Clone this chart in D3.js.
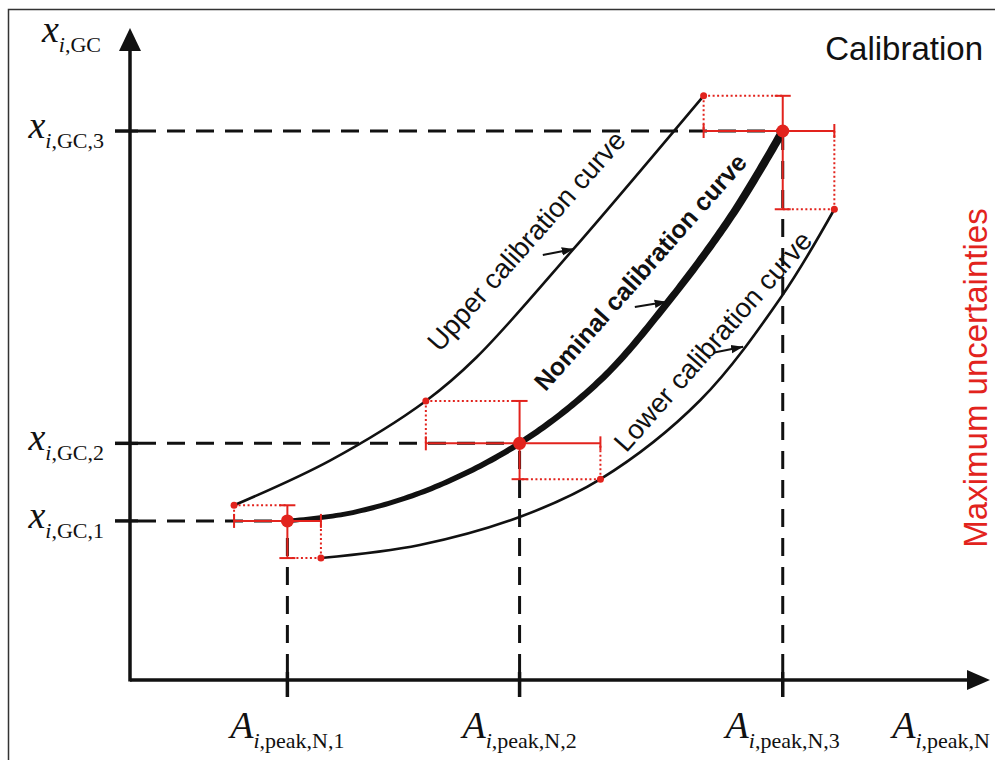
<!DOCTYPE html>
<html>
<head>
<meta charset="utf-8">
<script src="https://cdn.jsdelivr.net/npm/d3@7"></script>
<style>
  html, body { margin: 0; padding: 0; background: #fff; }
  svg { display: block; }
</style>
</head>
<body>
<script>
// Calibration points (peak area A, composition x) and their maximum uncertainties
const pointA = [18.3, 45.3, 75.9];
const pointX = [24.4, 36.3, 84.2];
const areaLow = [12.1, 34.4, 66.7];
const areaHigh = [22.2, 54.7, 81.9];
const compHigh = [26.8, 42.8, 89.6];
const compLow = [18.7, 30.8, 72.2];

// Calibration curves
const nominalA = [18.3, 25.6, 34.9, 45.3, 54.7, 62.4, 70.1, 75.9];
const nominalX = [24.4, 25.6, 29.3, 36.3, 46.0, 57.7, 71.5, 84.2];
const upperA = [12.1, 23.3, 34.4, 40.3, 51.5, 66.7];
const upperX = [26.8, 33.7, 42.8, 49.5, 66.0, 89.6];
const lowerA = [22.2, 33.7, 45.3, 54.7, 66.3, 75.8, 81.9];
const lowerX = [18.7, 20.7, 25.0, 30.8, 42.9, 58.9, 72.2];

// Tick labels (subscripts)
const xTickSubs = ["i,peak,N,1", "i,peak,N,2", "i,peak,N,3"];
const yTickSubs = ["i,GC,1", "i,GC,2", "i,GC,3"];

// Curve captions (centred) and their pointer arrows
const captionText = ["Upper calibration curve", "Nominal calibration curve", "Lower calibration curve"];
const captionA = [46.9, 60.1, 68.6];
const captionX = [66.4, 61.7, 51.0];
const arrowFromA = [48.0, 58.7, 67.8];
const arrowFromX = [65.2, 57.2, 50.2];
const arrowToA = [51.6, 62.4, 71.3];
const arrowToX = [66.1, 58.0, 51.1];

const W = 995, H = 760;
const RED = "#e2231d";
const INK = "#111";
const serif = "'Liberation Serif', 'Times New Roman', serif";
const sans = "'Liberation Sans', Arial, sans-serif";

const svg = d3.select("body").append("svg").attr("width", W).attr("height", H);

const x = d3.scaleLinear().domain([0, 100]).range([130, 990]);
const y = d3.scaleLinear().domain([0, 100]).range([680, 28]);

// frame
svg.append("rect").attr("x", 8.5).attr("y", 9.5).attr("width", 1100).attr("height", 1100)
  .attr("fill", "none").attr("stroke", "#333").attr("stroke-width", 1.5);

const defs = svg.append("defs");
defs.append("marker").attr("id", "head").attr("viewBox", "0 0 12 10")
  .attr("refX", 12).attr("refY", 5).attr("markerWidth", 12).attr("markerHeight", 10)
  .attr("markerUnits", "userSpaceOnUse").attr("orient", "auto")
  .append("path").attr("d", "M0,0.8 L12,5 L0,9.2 Z").attr("fill", INK);

const line = d3.line().x(d => x(d[0])).y(d => y(d[1])).curve(d3.curveCatmullRom.alpha(0.5));

// upper and lower calibration curves
svg.append("path").datum(d3.zip(upperA, upperX)).attr("d", line)
  .attr("fill", "none").attr("stroke", INK).attr("stroke-width", 2.6);
svg.append("path").datum(d3.zip(lowerA, lowerX)).attr("d", line)
  .attr("fill", "none").attr("stroke", INK).attr("stroke-width", 2.6);

// nominal curve: a ribbon that widens towards the top calibration point
(function () {
  const guide = svg.append("path").datum(d3.zip(nominalA, nominalX)).attr("d", line)
    .attr("fill", "none").attr("stroke", "none");
  const node = guide.node();
  const len = node.getTotalLength();
  const n = 160, left = [], right = [];
  for (let k = 0; k <= n; k++) {
    const s = len * k / n;
    const p = node.getPointAtLength(s);
    const q = node.getPointAtLength(Math.min(len, s + 0.5));
    const r = node.getPointAtLength(Math.max(0, s - 0.5));
    let dx = q.x - r.x, dy = q.y - r.y;
    const m = Math.hypot(dx, dy) || 1;
    dx /= m; dy /= m;
    const w = (4.5 + 3.8 * k / n) / 2;
    left.push([p.x - dy * w, p.y + dx * w]);
    right.push([p.x + dy * w, p.y - dx * w]);
  }
  const ring = left.concat(right.reverse());
  svg.append("path").attr("d", "M" + ring.map(d => d.join(",")).join("L") + "Z").attr("fill", INK);
  guide.remove();
})();

// dashed guides from the axes to each calibration point
const guides = svg.append("g").attr("stroke", INK).attr("stroke-width", 3).attr("stroke-dasharray", "18,11");
pointA.forEach((a, i) => {
  guides.append("line").attr("x1", x(0) + 8).attr("x2", x(a)).attr("y1", y(pointX[i])).attr("y2", y(pointX[i]));
  guides.append("line").attr("x1", x(a)).attr("x2", x(a)).attr("y1", y(0) - 8).attr("y2", y(pointX[i]));
});

// uncertainty bars
const err = svg.append("g").attr("stroke", RED).attr("fill", "none");
pointA.forEach((a, i) => {
  const cx = x(a), cy = y(pointX[i]);
  const xl = x(areaLow[i]), xh = x(areaHigh[i]);
  const yh = y(compHigh[i]), yl = y(compLow[i]);
  // dotted box edges to the upper/lower curve ends
  const dot = err.append("g").attr("stroke-width", 2).attr("stroke-dasharray", "2,2.5");
  dot.append("line").attr("x1", xl).attr("y1", yh).attr("x2", cx).attr("y2", yh);
  dot.append("line").attr("x1", xl).attr("y1", yh).attr("x2", xl).attr("y2", cy);
  dot.append("line").attr("x1", xh).attr("y1", yl).attr("x2", cx).attr("y2", yl);
  dot.append("line").attr("x1", xh).attr("y1", yl).attr("x2", xh).attr("y2", cy);
  // solid bars with caps
  const s = err.append("g").attr("stroke-width", 2);
  s.append("line").attr("x1", xl).attr("x2", xh).attr("y1", cy).attr("y2", cy);
  s.append("line").attr("x1", cx).attr("x2", cx).attr("y1", yh).attr("y2", yl);
  s.append("line").attr("x1", xl).attr("x2", xl).attr("y1", cy - 7).attr("y2", cy + 7);
  s.append("line").attr("x1", xh).attr("x2", xh).attr("y1", cy - 7).attr("y2", cy + 7);
  s.append("line").attr("x1", cx - 8).attr("x2", cx + 8).attr("y1", yh).attr("y2", yh);
  s.append("line").attr("x1", cx - 8).attr("x2", cx + 8).attr("y1", yl).attr("y2", yl);
  // markers
  svg.append("circle").attr("cx", xl).attr("cy", yh).attr("r", 3.5).attr("fill", RED);
  svg.append("circle").attr("cx", xh).attr("cy", yl).attr("r", 3.5).attr("fill", RED);
  svg.append("circle").attr("cx", cx).attr("cy", cy).attr("r", 6.5).attr("fill", RED);
});

// axes with arrowheads
const ax = svg.append("g").attr("stroke", INK).attr("stroke-width", 3.5);
ax.append("line").attr("x1", x(0)).attr("x2", x(100) - 20).attr("y1", y(0)).attr("y2", y(0));
ax.append("line").attr("x1", x(0)).attr("x2", x(0)).attr("y1", y(0) + 1.5).attr("y2", y(100) + 20);
svg.append("path").attr("fill", INK)
  .attr("d", `M${x(100)},${y(0)} L${x(100) - 23},${y(0) - 10} L${x(100) - 23},${y(0) + 10} Z`);
svg.append("path").attr("fill", INK)
  .attr("d", `M${x(0)},${y(100)} L${x(0) - 11},${y(100) + 23} L${x(0) + 11},${y(100) + 23} Z`);

pointA.forEach(a => {
  ax.append("line").attr("x1", x(a)).attr("x2", x(a)).attr("y1", y(0) - 8).attr("y2", y(0) + 17);
});
pointX.forEach(v => {
  ax.append("line").attr("x1", x(0) - 15).attr("x2", x(0) + 8).attr("y1", y(v)).attr("y2", y(v));
});

// tick labels: italic symbol with an italic index and upright remainder
function subLabel(g, main, sub, px, py, anchor) {
  const t = g.append("text").attr("x", px).attr("y", py).attr("text-anchor", anchor)
    .attr("font-family", serif).attr("fill", INK);
  t.append("tspan").attr("font-style", "italic").attr("font-size", 38).text(main);
  const parts = sub.split(",");
  t.append("tspan").attr("font-size", 22).attr("dy", 10).attr("font-style", "italic").text(parts[0]);
  t.append("tspan").attr("font-size", 22).text("," + parts.slice(1).join(","));
  return t;
}
const labels = svg.append("g");
pointA.forEach((a, i) => subLabel(labels, "A", xTickSubs[i], x(a), 738, "middle"));
subLabel(labels, "A", "i,peak,N", x(100), 738, "end");
pointX.forEach((v, i) => subLabel(labels, "x", yTickSubs[i], 104, y(v) + 7, "end"));
subLabel(labels, "x", "i,GC", 101, 42, "end");

// titles
svg.append("text").attr("x", 983).attr("y", 60).attr("text-anchor", "end")
  .attr("font-family", sans).attr("font-size", 33).attr("fill", INK).text("Calibration");
svg.append("text").attr("transform", "translate(987,378) rotate(-90)").attr("text-anchor", "middle")
  .attr("font-family", sans).attr("font-size", 33).attr("fill", RED).text("Maximum uncertainties");

// curve captions
captionText.forEach((txt, i) => {
  svg.append("text")
    .attr("transform", `translate(${x(captionA[i])},${y(captionX[i])}) rotate(-48.5)`)
    .attr("text-anchor", "middle")
    .attr("font-family", sans).attr("font-size", i === 1 ? 25 : 27.5).attr("fill", INK)
    .attr("font-weight", i === 1 ? "bold" : "normal")
    .text(txt);
  svg.append("line")
    .attr("x1", x(arrowFromA[i])).attr("y1", y(arrowFromX[i]))
    .attr("x2", x(arrowToA[i])).attr("y2", y(arrowToX[i]))
    .attr("stroke", INK).attr("stroke-width", 2).attr("marker-end", "url(#head)");
});
</script>
</body>
</html>
